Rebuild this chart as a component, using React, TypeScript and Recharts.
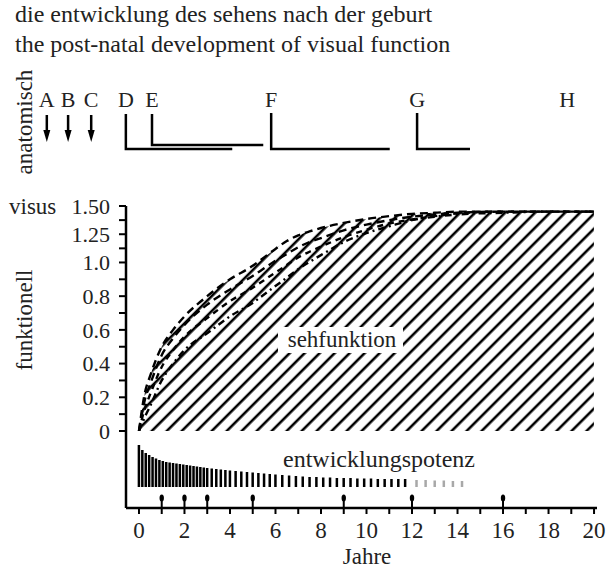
// Post-natal development of visual function: visus curves (hatched "sehfunktion")
// over the shrinking development potential bars, with the anatomical stages on top.

import { Area, Bar, ComposedChart, Line, Scatter, XAxis, YAxis } from "recharts";

const FONT = '"Liberation Serif", "Times New Roman", serif';

// visus by age in years; four dashed curves, outermost first
const YEARS = [0, 0.25, 0.5, 1, 1.5, 2, 3, 4, 5, 5.5, 6, 6.5, 7, 7.5, 8, 9, 10, 11, 12, 13, 14, 16, 18, 20];
const VISUS_OUTER = [0, 0.22, 0.33, 0.5, 0.6, 0.68, 0.8, 0.9, 0.98, 1.045, 1.12, 1.19, 1.24, 1.275, 1.305, 1.35, 1.385, 1.41, 1.43, 1.44, 1.45, 1.45, 1.45, 1.45];
const VISUS_SECOND = [0, 0.18, 0.28, 0.45, 0.55, 0.63, 0.75, 0.84, 0.92, 0.965, 1.015, 1.075, 1.135, 1.18, 1.215, 1.285, 1.335, 1.375, 1.405, 1.425, 1.44, 1.45, 1.45, 1.45];
const VISUS_THIRD = [0, 0.13, 0.22, 0.38, 0.48, 0.56, 0.67, 0.77, 0.85, 0.895, 0.94, 0.985, 1.045, 1.095, 1.14, 1.225, 1.29, 1.345, 1.38, 1.41, 1.435, 1.45, 1.45, 1.45];
const VISUS_INNER = [0, 0.08, 0.15, 0.3, 0.4, 0.48, 0.58, 0.68, 0.76, 0.81, 0.86, 0.91, 0.96, 1.005, 1.065, 1.18, 1.26, 1.32, 1.375, 1.405, 1.425, 1.44, 1.45, 1.45];

const VISUS_TICKS = [0, 0.2, 0.4, 0.6, 0.8, 1.0, 1.25, 1.5];
const VISUS_TICK_LABELS = ["0", "0.2", "0.4", "0.6", "0.8", "1.0", "1.25", "1.50"];

// entwicklungspotenz bars (height above the bar baseline)
const POTENZ_YEARS = [
  0, 0.15, 0.3, 0.45, 0.6, 0.75, 0.9, 1.05, 1.2, 1.35, 1.5, 1.65, 1.8, 1.95, 2.1, 2.25, 2.4, 2.55, 2.7, 2.85, 3.0,
  3.2, 3.4, 3.6, 3.8, 4.0, 4.25, 4.5, 4.75, 5.0, 5.25, 5.5, 5.75, 6.0,
  6.3, 6.6, 6.9, 7.2, 7.5, 7.8, 8.1, 8.4, 8.7, 9.0, 9.3, 9.6, 9.9, 10.2, 10.5, 10.8, 11.1, 11.4, 11.7,
];
const POTENZ = [
  42, 37, 34, 32, 30, 28.5, 27, 26, 25, 24.5, 24, 23.5, 23, 22.5, 22, 21.5, 21, 20.5, 20, 19.5, 19,
  18.5, 18, 17.5, 17, 16.5, 16, 15.5, 15, 14.5, 14, 13.5, 13, 12.5,
  12, 11.5, 11, 10.5, 10, 10, 9.5, 9.5, 9, 9, 9, 8.5, 8.5, 8.5, 8, 8, 8, 8, 8,
];
const POTENZ_FADED_YEARS = [12.2, 12.6, 13.0, 13.4, 13.8, 14.2];
const POTENZ_FADED = [7, 7, 6.5, 6.5, 6, 6];

const EVENT_YEARS = [1, 2, 3, 5, 9, 12, 16];
const YEAR_TICKS = [0, 1, 2, 3, 4, 5, 6, 7, 8, 9, 10, 11, 12, 13, 14, 15, 16, 17, 18, 19, 20];

// anatomical stages, position in % of the header width
const STAGES = ["A", "B", "C", "D", "E", "F", "G", "H"];
const STAGE_POS = [7.7, 11.2, 15.0, 20.7, 25.0, 44.6, 68.6, 93.3];
const ARROW_STAGES = ["A", "B", "C"];
const SPAN_STAGES = ["D", "E", "F", "G"];
const SPAN_END = [38.2, 43.3, 64.1, 77.3];
const SPAN_TOP = [34, 34, 33, 33];
const SPAN_BOTTOM = [69, 65, 69, 69];

// the axis is compressed above visus 1.0
const STRETCH = 0.67;
const toAxis = (v: number) => (v <= 1 ? v : 1 + (v - 1) * STRETCH);

const visusRows = YEARS.map((year, i) => ({
  year,
  c1: VISUS_OUTER[i],
  c2: VISUS_SECOND[i],
  c3: VISUS_THIRD[i],
  c4: VISUS_INNER[i],
}));

const potenzRows = [
  ...POTENZ_YEARS.map((year, i) => ({ year, pot: POTENZ[i], faded: false })),
  ...POTENZ_FADED_YEARS.map((year, i) => ({ year, pot: POTENZ_FADED[i], faded: true })),
];

const eventRows = EVENT_YEARS.map((year) => ({ year, y: -8 }));

const majorTicks = VISUS_TICKS.map(toAxis);
const minorTicks = majorTicks.slice(1).map((t, i) => (t + majorTicks[i]) / 2);
const yTicks = [...majorTicks, ...minorTicks].sort((a, b) => a - b);

function visusLabel(u: number) {
  const i = majorTicks.findIndex((t) => Math.abs(t - u) < 1e-6);
  return i >= 0 ? VISUS_TICK_LABELS[i] : "";
}

const stageRows = STAGES.map((label, i) => ({ label, x: STAGE_POS[i], y: 27 }));
const arrowRows = ARROW_STAGES.map((s) => ({ x: STAGE_POS[STAGES.indexOf(s)], y: 35 }));
const spans = SPAN_STAGES.map((s, i) => {
  const x = STAGE_POS[STAGES.indexOf(s)];
  return [
    { x, y: SPAN_TOP[i] },
    { x, y: SPAN_BOTTOM[i] },
    { x: SPAN_END[i], y: SPAN_BOTTOM[i] },
  ];
});

const dashed = { stroke: "#000", strokeWidth: 2.4, dot: false, isAnimationActive: false } as const;

function StageLetter(props: any) {
  return (
    <text x={props.cx} y={props.cy} textAnchor="middle" fontSize={22} fontFamily={FONT} fill="#222">
      {props.payload.label}
    </text>
  );
}

function DownArrow(props: any) {
  const { cx, cy } = props;
  return (
    <g>
      <line x1={cx} y1={cy} x2={cx} y2={cy + 17} stroke="#000" strokeWidth={2.5} />
      <polygon points={`${cx - 3.5},${cy + 15} ${cx + 3.5},${cy + 15} ${cx},${cy + 27}`} fill="#000" />
    </g>
  );
}

function UpArrow(props: any) {
  const { cx, cy } = props;
  return (
    <g>
      <line x1={cx} y1={cy + 4} x2={cx} y2={cy + 14} stroke="#000" strokeWidth={2} />
      <ellipse cx={cx} cy={cy + 3} rx={2.2} ry={3.5} fill="#000" />
    </g>
  );
}

// thick comb tooth, centred on the bar's year
function Tooth(props: any) {
  const { x, y, width, height, payload } = props;
  if (!height) return null;
  return (
    <rect
      x={x + width / 2 - 1.25}
      y={y}
      width={2.5}
      height={height}
      fill={payload.faded ? "#a8a8a8" : "#000"}
    />
  );
}

export default function App() {
  return (
    <div style={{ position: "absolute", left: 0, top: 0, width: 608, height: 571, background: "#fff" }}>
      {/* anatomical stages */}
      <div style={{ position: "absolute", left: 0, top: 80 }}>
        <ComposedChart width={608} height={80} margin={{ top: 0, right: 0, bottom: 0, left: 0 }}>
          <XAxis type="number" dataKey="x" domain={[0, 100]} hide />
          <YAxis type="number" domain={[0, 80]} reversed hide />
          {spans.map((pts, i) => (
            <Line
              key={SPAN_STAGES[i]}
              data={pts}
              dataKey="y"
              type="linear"
              stroke="#000"
              strokeWidth={2.5}
              dot={false}
              isAnimationActive={false}
            />
          ))}
          <Scatter data={arrowRows} dataKey="y" shape={DownArrow} isAnimationActive={false} />
          <Scatter data={stageRows} dataKey="y" shape={StageLetter} isAnimationActive={false} />
        </ComposedChart>
      </div>

      {/* functional: visus */}
      <div style={{ position: "absolute", left: 0, top: 186 }}>
        <ComposedChart width={608} height={257} data={visusRows} margin={{ top: 20, right: 0, bottom: 12, left: 0 }}>
          <defs>
            <pattern id="hatch" patternUnits="userSpaceOnUse" width={10.6} height={10.6} patternTransform="rotate(45)">
              <line x1={5} y1={0} x2={5} y2={10.6} stroke="#000" strokeWidth={2.6} />
            </pattern>
          </defs>
          <XAxis
            type="number"
            dataKey="year"
            domain={[-0.57, 20.62]}
            allowDataOverflow
            height={0}
            tick={false}
            tickLine={false}
            axisLine={{ stroke: "#000", strokeWidth: 2.5 }}
          />
          <YAxis
            type="number"
            domain={[0, toAxis(1.5)]}
            allowDataOverflow
            ticks={yTicks}
            interval={0}
            tickFormatter={visusLabel}
            width={126}
            tickSize={7}
            tickMargin={9}
            axisLine={{ stroke: "#000", strokeWidth: 2.5 }}
            tickLine={{ stroke: "#000", strokeWidth: 2 }}
            tick={{ fontSize: 22, fill: "#222", fontFamily: FONT }}
          />
          <Area
            dataKey={(d: any) => toAxis(d.c1)}
            type="monotone"
            stroke="none"
            fill="url(#hatch)"
            fillOpacity={1}
            isAnimationActive={false}
          />
          <Line dataKey={(d: any) => toAxis(d.c1)} type="monotone" strokeDasharray="8 5" {...dashed} />
          <Line dataKey={(d: any) => toAxis(d.c2)} type="monotone" strokeDasharray="8 5" {...dashed} />
          <Line dataKey={(d: any) => toAxis(d.c3)} type="monotone" strokeDasharray="6 5" {...dashed} />
          <Line dataKey={(d: any) => toAxis(d.c4)} type="monotone" strokeDasharray="7 4 2 4" {...dashed} />
        </ComposedChart>
      </div>

      {/* development potential */}
      <div style={{ position: "absolute", left: 0, top: 431 }}>
        <ComposedChart width={608} height={122} data={potenzRows} margin={{ top: 0, right: 11, bottom: 0, left: 0 }}>
          <XAxis
            type="number"
            dataKey="year"
            domain={[-0.57, 20.13]}
            allowDataOverflow
            ticks={YEAR_TICKS}
            interval={0}
            tickFormatter={(y: number) => (y % 2 === 0 ? String(y) : "")}
            height={45}
            tickSize={6}
            tickMargin={8}
            axisLine={{ stroke: "#000", strokeWidth: 2.5 }}
            tickLine={{ stroke: "#000", strokeWidth: 2 }}
            tick={{ fontSize: 23, fill: "#222", fontFamily: FONT }}
          />
          <YAxis
            type="number"
            domain={[-21, 56]}
            allowDataOverflow
            width={126}
            tick={false}
            tickLine={false}
            axisLine={{ stroke: "#000", strokeWidth: 2.5 }}
          />
          <Bar dataKey="pot" barSize={3} shape={Tooth} isAnimationActive={false} />
          <Scatter data={eventRows} dataKey="y" shape={UpArrow} isAnimationActive={false} />
        </ComposedChart>
      </div>

      <svg width={608} height={571} style={{ position: "absolute", left: 0, top: 0, pointerEvents: "none" }}>
        <g fontFamily={FONT} fill="#222">
          <text x={15} y={22} fontSize={24}>die entwicklung des sehens nach der geburt</text>
          <text x={15} y={52} fontSize={24}>the post-natal development of visual function</text>
          <text transform="translate(32,122) rotate(-90)" textAnchor="middle" fontSize={23}>anatomisch</text>
          <text x={9} y={214} fontSize={23}>visus</text>
          <text transform="translate(32,320) rotate(-90)" textAnchor="middle" fontSize={23}>funktionell</text>
          <rect x={278} y={327} width={125} height={26} fill="#fff" />
          <text x={342} y={347} textAnchor="middle" fontSize={23}>sehfunktion</text>
          <text x={379} y={467} textAnchor="middle" fontSize={24}>entwicklungspotenz</text>
          <text x={367} y={564} textAnchor="middle" fontSize={23}>Jahre</text>
        </g>
      </svg>
    </div>
  );
}
